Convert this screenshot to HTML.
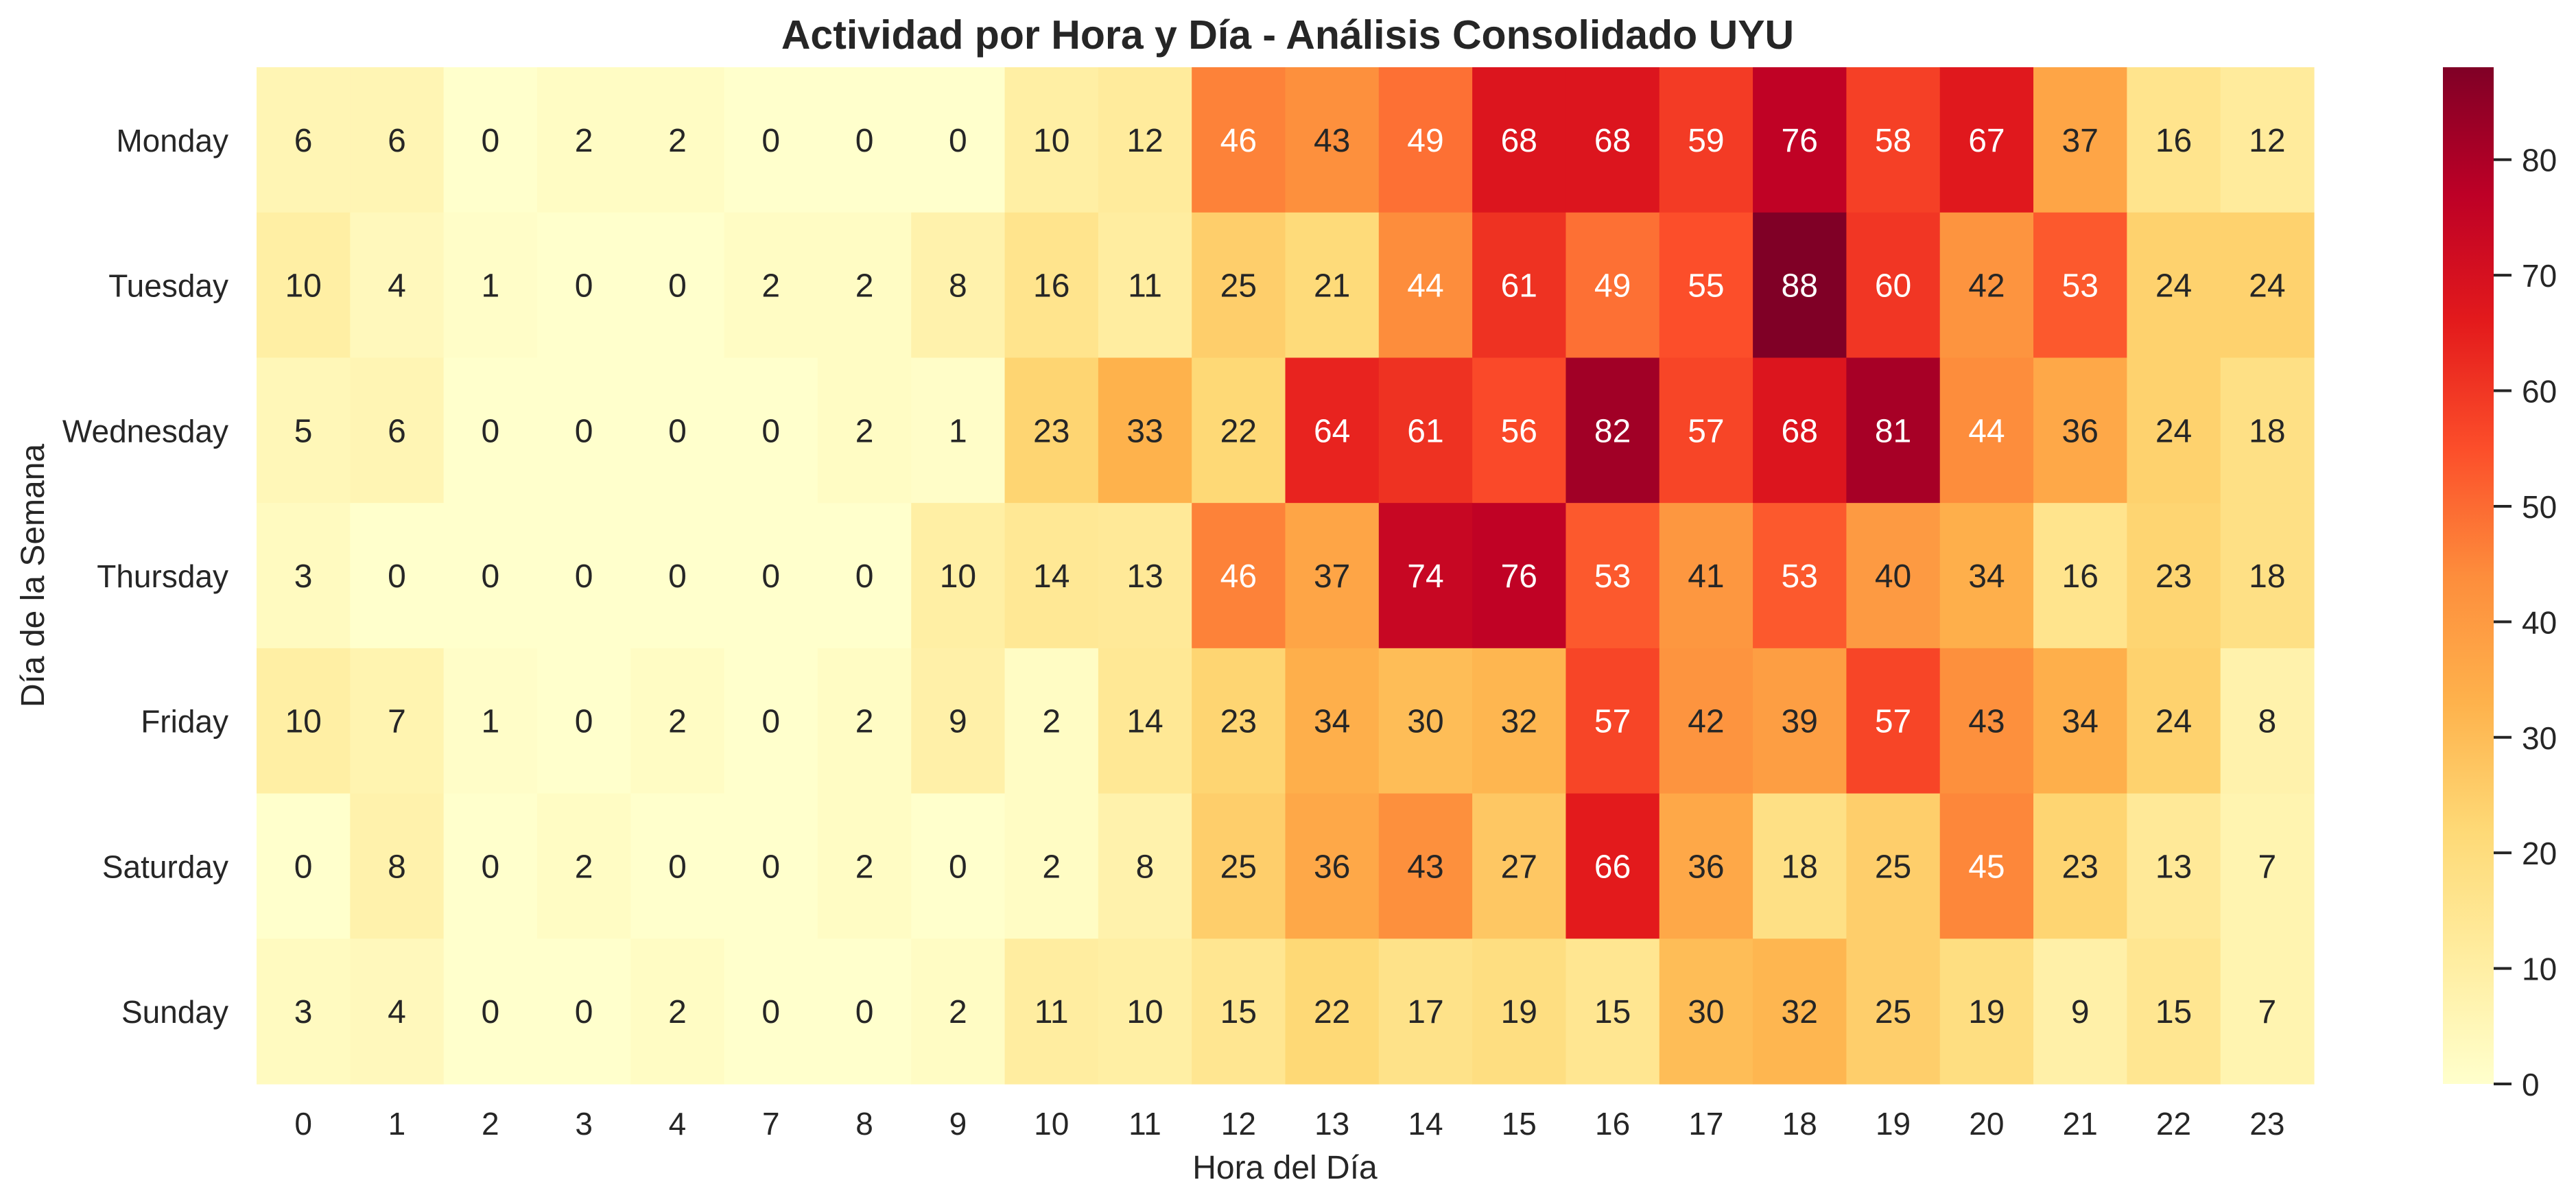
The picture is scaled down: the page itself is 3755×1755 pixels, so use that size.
<!DOCTYPE html>
<html><head><meta charset="utf-8">
<style>
html,body{margin:0;padding:0;background:#fff;}
svg{display:block;font-family:"Liberation Sans",Arial,sans-serif;}
</style></head>
<body>
<svg id="chart" width="3755" height="1755" viewBox="0 0 3755 1755" xmlns="http://www.w3.org/2000/svg">
<defs>
<linearGradient id="cbgrad" x1="0" y1="1" x2="0" y2="0">
<stop offset="0" stop-color="#ffffcc"/><stop offset="0.125" stop-color="#ffeda0"/><stop offset="0.25" stop-color="#fed976"/><stop offset="0.375" stop-color="#feb24c"/><stop offset="0.5" stop-color="#fd8d3c"/><stop offset="0.625" stop-color="#fc4e2a"/><stop offset="0.75" stop-color="#e31a1c"/><stop offset="0.875" stop-color="#bd0026"/><stop offset="1" stop-color="#800026"/>
</linearGradient>
</defs>
<text x="1877" y="71" text-anchor="middle" font-size="59" font-weight="bold" fill="#262626">Actividad por Hora y Día - Análisis Consolidado UYU</text>
<g id="cells"></g>
<g id="xticks"></g>
<g id="yticks"></g>
<text x="1873" y="1718" text-anchor="middle" font-size="48" fill="#262626">Hora del Día</text>
<text x="0" y="0" transform="translate(64,839) rotate(-90)" text-anchor="middle" font-size="48" fill="#262626">Día de la Semana</text>
<rect x="3561" y="98" width="74" height="1482" fill="url(#cbgrad)"/>
<g id="cbticks"></g>
</svg>
<script>
const days = ["Monday","Tuesday","Wednesday","Thursday","Friday","Saturday","Sunday"];
const hours = ["0","1","2","3","4","7","8","9","10","11","12","13","14","15","16","17","18","19","20","21","22","23"];
const rowMonday    = [6,6,0,2,2,0,0,0,10,12,46,43,49,68,68,59,76,58,67,37,16,12];
const rowTuesday   = [10,4,1,0,0,2,2,8,16,11,25,21,44,61,49,55,88,60,42,53,24,24];
const rowWednesday = [5,6,0,0,0,0,2,1,23,33,22,64,61,56,82,57,68,81,44,36,24,18];
const rowThursday  = [3,0,0,0,0,0,0,10,14,13,46,37,74,76,53,41,53,40,34,16,23,18];
const rowFriday    = [10,7,1,0,2,0,2,9,2,14,23,34,30,32,57,42,39,57,43,34,24,8];
const rowSaturday  = [0,8,0,2,0,0,2,0,2,8,25,36,43,27,66,36,18,25,45,23,13,7];
const rowSunday    = [3,4,0,0,2,0,0,2,11,10,15,22,17,19,15,30,32,25,19,9,15,7];
const values = [rowMonday,rowTuesday,rowWednesday,rowThursday,rowFriday,rowSaturday,rowSunday];
const cbTicks = [0,10,20,30,40,50,60,70,80];
const vmin = 0, vmax = 88;

const L=374, R=3373, T=98, B=1580;
const cw=(R-L)/hours.length, rh=(B-T)/days.length;
const xPos=i=>L+i*cw, yPos=j=>T+j*rh;
const cbY=v=>B-(v-vmin)/(vmax-vmin)*(B-T);
const stops=["#ffffcc","#ffeda0","#fed976","#feb24c","#fd8d3c","#fc4e2a","#e31a1c","#bd0026","#800026"].map(h=>[1,3,5].map(k=>parseInt(h.substr(k,2),16)));
function color(v){let t=(v-vmin)/(vmax-vmin)*(stops.length-1);let i=Math.min(Math.floor(t),stops.length-2);let f=t-i;
 const c=stops[i].map((a,k)=>Math.round(a+(stops[i+1][k]-a)*f));return `rgb(${c[0]},${c[1]},${c[2]})`;}
function lum(v){const m=color(v).match(/\d+/g).map(x=>{x/=255;return x<=0.03928?x/12.92:Math.pow((x+0.055)/1.055,2.4)});return 0.2126*m[0]+0.7152*m[1]+0.0722*m[2];}
const NS="http://www.w3.org/2000/svg";
function mk(tag,attrs,parent){const e=document.createElementNS(NS,tag);for(const k in attrs)e.setAttribute(k,attrs[k]);parent.appendChild(e);return e;}
const cells=document.getElementById('cells');
values.forEach((row,j)=>row.forEach((v,i)=>{
 const r=mk('rect',{x:xPos(i),y:yPos(j),width:cw+0.6,height:rh+0.6,fill:color(v)},cells);
 
 
 const t=mk('text',{x:xPos(i)+cw/2,y:yPos(j)+rh/2+17,'text-anchor':'middle','font-size':48,fill:lum(v)>0.408?'#262626':'#ffffff'},cells);
 t.textContent=v;
 
 
}));
const xt=document.getElementById('xticks');
hours.forEach((h,i)=>{const t=mk('text',{x:xPos(i)+cw/2,y:1654,'text-anchor':'middle','font-size':46,fill:'#262626'},xt);t.textContent=h;
 
 });
const yt=document.getElementById('yticks');
days.forEach((d,j)=>{const t=mk('text',{x:333,y:yPos(j)+rh/2+17,'text-anchor':'end','font-size':46,fill:'#262626'},yt);t.textContent=d;
 
 });
const cb=document.getElementById('cbticks');
cbTicks.forEach(v=>{const y=cbY(v);
 const l=mk('line',{x1:3635,x2:3661,y1:y,y2:y,stroke:'#262626','stroke-width':4},cb);
 
 
 const t=mk('text',{x:3676,y:y+17,'font-size':46,fill:'#262626'},cb);t.textContent=v;
 
 });
</script>
</body></html>
